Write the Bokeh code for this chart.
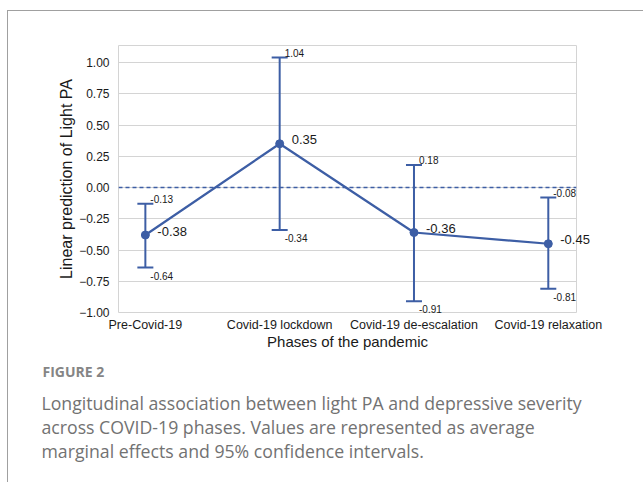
from bokeh.plotting import figure
from bokeh.models import (FixedTicker, Span, ColumnDataSource, Range1d, Title)
from bokeh.core.properties import value
from bokeh.embed import file_html
from bokeh.resources import INLINE

# ---- data ----
categories = ["Pre-Covid-19", "Covid-19 lockdown", "Covid-19 de-escalation", "Covid-19 relaxation"]
means = [-0.38, 0.35, -0.36, -0.45]
upper = [-0.13, 1.04, 0.18, -0.08]
lower = [-0.64, -0.34, -0.91, -0.81]
y_ticks = [-1.0, -0.75, -0.5, -0.25, 0.0, 0.25, 0.5, 0.75, 1.0]
y_tick_labels = ["\u22121.00", "\u22120.75", "\u22120.50", "\u22120.25", "0.00", "0.25", "0.50", "0.75", "1.00"]
caption_head = "FIGURE 2"
caption_lines = [
    "Longitudinal association between light PA and depressive severity",
    "across COVID-19 phases. Values are represented as average",
    "marginal effects and 95% confidence intervals.",
]

BLUE = "#3d5ea5"
AXFONT = "Liberation Sans"

xs = list(range(len(categories)))
src = ColumnDataSource(dict(
    x=xs, mean=means, upper=upper, lower=lower,
    mean_txt=["%.2f" % v for v in means],
    up_txt=["%.2f" % v for v in upper],
    lo_txt=["%.2f" % v for v in lower],
))

W, H = 636, 472
p = figure(width=W, height=H, output_backend="svg", toolbar_location=None,
           x_range=Range1d(-0.2, 3.21), y_range=Range1d(-1.0, 1.136),
           min_border_left=110, min_border_right=68, min_border_top=34, min_border_bottom=171,
           styles={"margin-left": "7px", "margin-top": "10px",
                   "border-left": "1px solid #a0a0a0", "border-top": "1px solid #a0a0a0"})
p.background_fill_color = "white"
p.border_fill_color = "white"
p.outline_line_color = "#d4d4d4"
p.outline_line_width = 1

p.xgrid.grid_line_color = None
p.ygrid.grid_line_color = "#d4d4d4"
p.ygrid.grid_line_width = 1

p.yaxis.ticker = FixedTicker(ticks=y_ticks)
p.yaxis.major_label_overrides = {t: l for t, l in zip(y_ticks, y_tick_labels)}
p.xaxis.ticker = FixedTicker(ticks=xs)
p.xaxis.major_label_overrides = {i: c for i, c in zip(xs, categories)}
for ax in (p.xaxis[0], p.yaxis[0]):
    ax.axis_line_color = None
    ax.major_tick_line_color = None
    ax.minor_tick_line_color = None
    ax.major_tick_out = 0
    ax.major_tick_in = 0
    ax.major_label_text_font = AXFONT
    ax.major_label_text_color = "#1a1a1a"
    ax.axis_label_text_font = AXFONT
    ax.axis_label_text_font_style = "normal"
    ax.axis_label_text_color = "#1a1a1a"
p.yaxis.major_label_text_font_size = "12px"
p.yaxis.major_label_standoff = 9
p.yaxis.axis_label = "Linear prediction of Light PA"
p.yaxis.axis_label_text_font_size = "16px"
p.yaxis.axis_label_standoff = 1
p.xaxis.major_label_text_font_size = "12.5px"
p.xaxis.major_label_standoff = 5
p.xaxis.axis_label = "Phases of the pandemic"
p.xaxis.axis_label_text_font_size = "15px"
p.xaxis.axis_label_standoff = -2

p.add_layout(Span(location=0, dimension="width", line_color=BLUE,
                  line_dash="4 3", line_width=1.3))

p.segment(x0="x", y0="lower", x1="x", y1="upper", source=src, line_color=BLUE, line_width=2)
p.scatter(x="x", y="upper", source=src, marker="dash", size=16, line_color=BLUE, line_width=2)
p.scatter(x="x", y="lower", source=src, marker="dash", size=16, line_color=BLUE, line_width=2)

p.line(x="x", y="mean", source=src, line_color=BLUE, line_width=2.2)
p.scatter(x="x", y="mean", source=src, size=8, fill_color=BLUE, line_color=BLUE)

p.text(x="x", y="mean", text="mean_txt", source=src, x_offset=12, y_offset=-4,
       text_baseline="middle", text_align="left", text_font=value(AXFONT),
       text_font_size="13px", text_color="#1a1a1a", level="overlay")
p.text(x="x", y="upper", text="up_txt", source=src, x_offset=5, y_offset=-5,
       text_baseline="middle", text_align="left", text_font=value(AXFONT),
       text_font_size="10px", text_color="#1a1a1a", level="overlay")
p.text(x="x", y="lower", text="lo_txt", source=src, x_offset=5, y_offset=8,
       text_baseline="middle", text_align="left", text_font=value(AXFONT),
       text_font_size="10px", text_color="#1a1a1a", level="overlay")

CAPFONT = "Open Sans"
p.add_layout(Title(text=caption_head, align="left", offset=-76, standoff=18,
                   vertical_align="top",
                   text_font=CAPFONT, text_font_size="14px", text_color="#858585",
                   text_font_style="bold"), "below")
p.add_layout(Title(text="\n".join(caption_lines), align="left", offset=-77, standoff=-1,
                   vertical_align="top",
                   text_font=CAPFONT, text_font_size="17.7px", text_color="#727272",
                   text_font_style="normal", text_line_height=0.99), "below")

open("out.html", "w").write(file_html(p, INLINE))
